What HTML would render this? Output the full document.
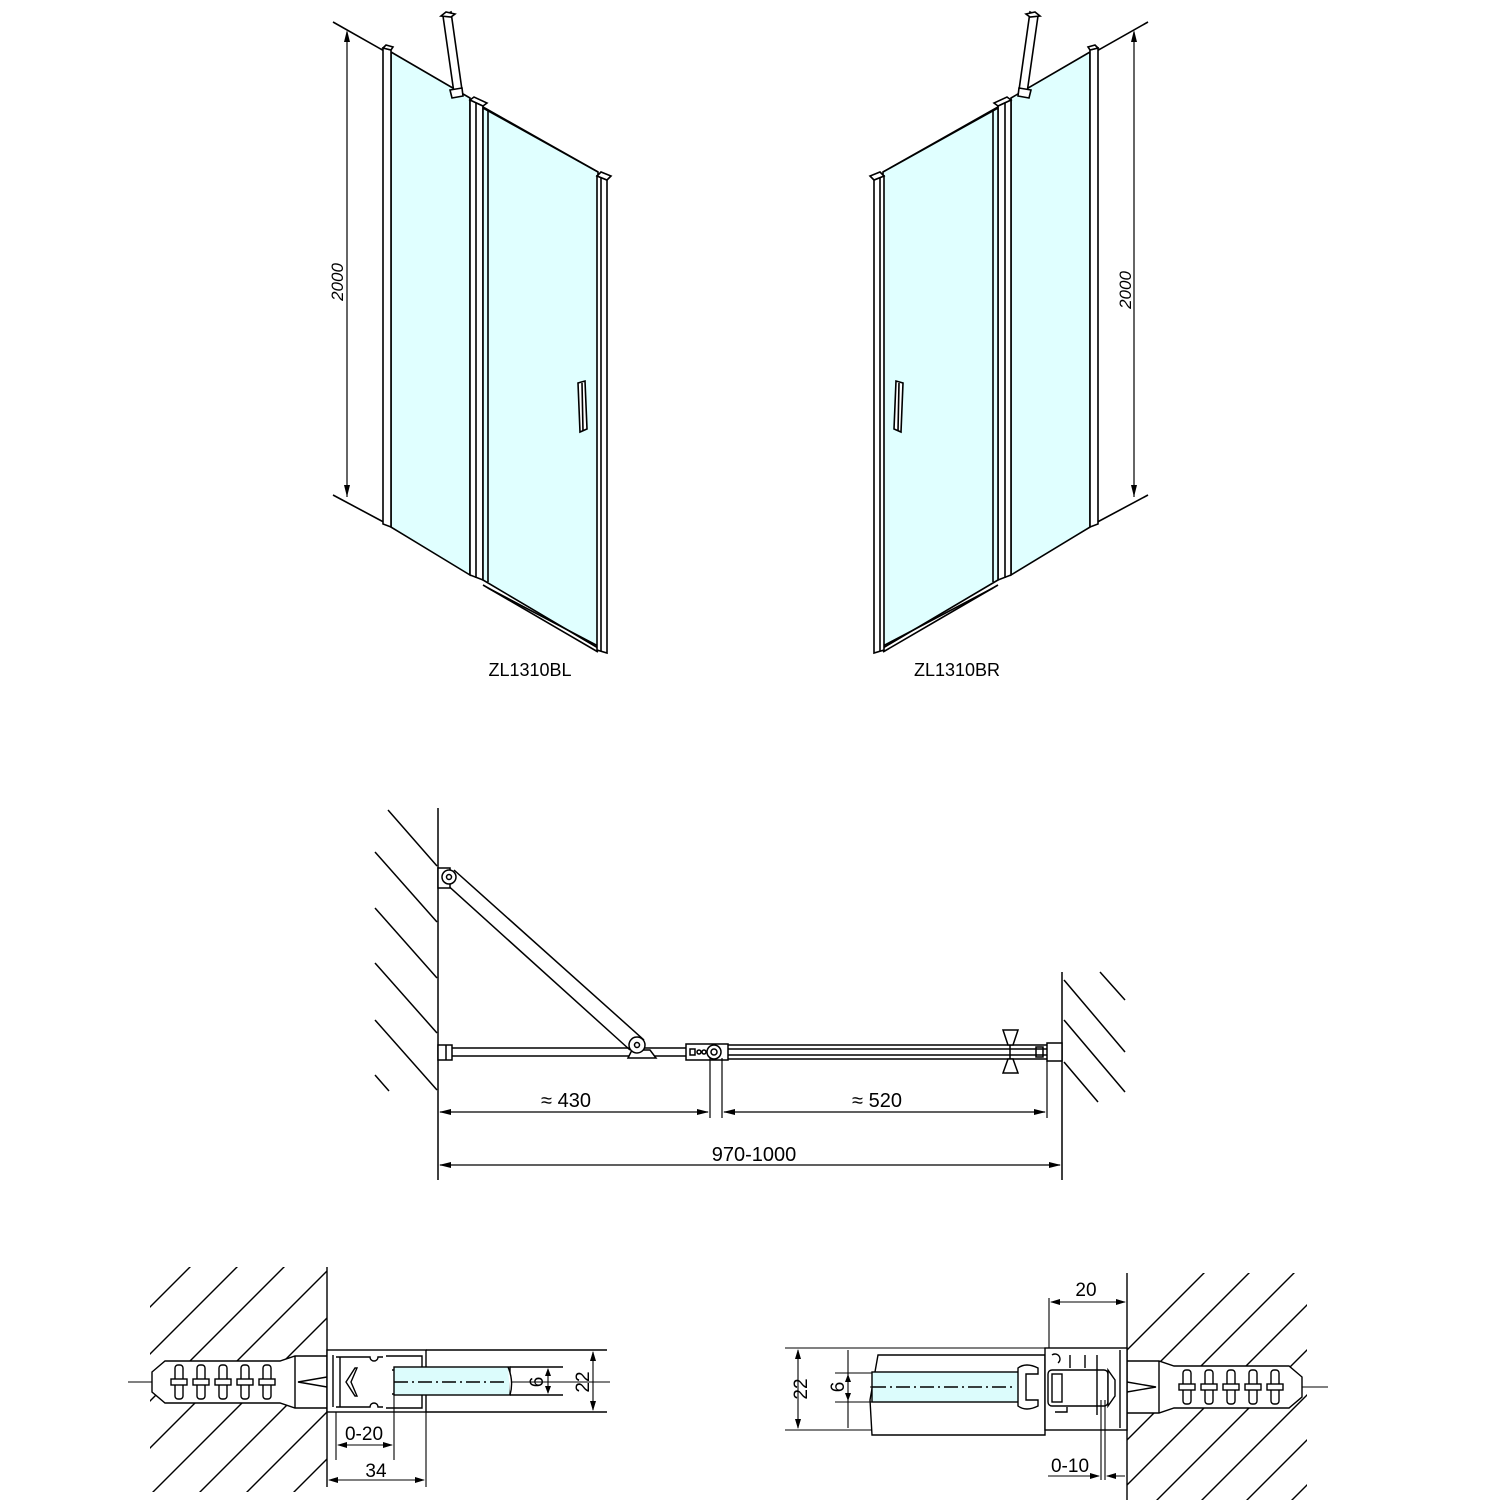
<!DOCTYPE html>
<html><head><meta charset="utf-8"><style>
html,body{margin:0;padding:0;background:#fff;width:1500px;height:1500px;overflow:hidden;}
svg{display:block;}
text{font-family:"Liberation Sans","DejaVu Sans",sans-serif;fill:#000;}
</style></head><body>
<svg width="1500" height="1500" viewBox="0 0 1500 1500" xmlns="http://www.w3.org/2000/svg">
<defs>
<g id="door" stroke="#000" stroke-width="1.6" fill="none">
  <line x1="333" y1="22" x2="598" y2="172"/>
  <line x1="333" y1="495" x2="391" y2="526"/>
  <line x1="391" y1="527" x2="470" y2="573"/>
  <line x1="347" y1="32" x2="347" y2="497" stroke-width="1.2"/>
  <path d="M347,30 l-3,12 h6z M347,497 l-3,-12 h6z" fill="#000" stroke="none"/>
  <polygon points="391,52 470,98 470,575 391,527" fill="#e0ffff"/>
  <polygon points="383,48 391,50 391,527 383,524" fill="#fff"/>
  <polygon points="383,48 386,45 393,47 391,50" fill="#fff"/>
  <polygon points="470,100 483,106 483,580 470,575" fill="#fff"/>
  <line x1="476" y1="103" x2="476" y2="578"/>
  <polygon points="470,100 474,97 487,103 483,106" fill="#fff"/>
  <polygon points="483,108 598,172 598,648 483,580" fill="#e0ffff"/>
  <line x1="488" y1="111" x2="488" y2="582"/>
  <line x1="483" y1="585" x2="598" y2="652"/>
  <line x1="488" y1="588" x2="598" y2="646"/>
  <polygon points="597,176 607,180 607,653 597,650" fill="#fff"/>
  <line x1="601" y1="178" x2="601" y2="651"/>
  <polygon points="597,176 601,172 611,176 607,180" fill="#fff"/>
  <polygon points="578,383 585,381 587,429 580,432" fill="#fff"/>
  <line x1="582" y1="383" x2="583" y2="431"/>
  <polygon points="443,16 451,12 462,90 454,93" fill="#fff"/>
  <polygon points="441,16 446,12 455,14 451,17" fill="#fff"/>
  <polygon points="450,90 462,88 463,96 452,98" fill="#fff"/>
</g>
<g id="anchor" stroke="#000" stroke-width="1.4" fill="#fff">
  <polygon points="152,1372 165,1361 280,1361 295,1356 327,1356 327,1408 295,1408 280,1403 165,1403 152,1392"/>
  <rect x="175" y="1365" width="8" height="34" rx="3"/>
  <rect x="197" y="1365" width="8" height="34" rx="3"/>
  <rect x="219" y="1365" width="8" height="34" rx="3"/>
  <rect x="241" y="1365" width="8" height="34" rx="3"/>
  <rect x="263" y="1365" width="8" height="34" rx="3"/>
  <rect x="171" y="1379" width="16" height="6"/>
  <rect x="193" y="1379" width="16" height="6"/>
  <rect x="215" y="1379" width="16" height="6"/>
  <rect x="237" y="1379" width="16" height="6"/>
  <rect x="259" y="1379" width="16" height="6"/>
  <line x1="295" y1="1356" x2="295" y2="1408"/>
  <polyline points="327,1377 298,1382 327,1387" fill="none"/>
</g>
<clipPath id="cl"><rect x="150" y="1267" width="177" height="225"/></clipPath>
<clipPath id="cr"><rect x="1127" y="1273" width="180" height="227"/></clipPath>
</defs>

<use href="#door"/>
<use href="#door" transform="translate(1481,0) scale(-1,1)"/>
<text x="0" y="0" font-size="17" font-style="italic" transform="translate(343,282) rotate(-90)" text-anchor="middle" font-family="Liberation Serif">2000</text>
<text x="0" y="0" font-size="17" font-style="italic" transform="translate(1131,290) rotate(-90)" text-anchor="middle" font-family="Liberation Serif">2000</text>
<text x="530" y="676" font-size="18" text-anchor="middle">ZL1310BL</text>
<text x="957" y="676" font-size="18" text-anchor="middle">ZL1310BR</text>

<g stroke="#000" stroke-width="1.5" fill="none">
  <line x1="438" y1="808" x2="438" y2="1180"/>
  <line x1="388" y1="810" x2="437" y2="866"/>
  <line x1="375" y1="852" x2="437" y2="922"/>
  <line x1="375" y1="908" x2="437" y2="978"/>
  <line x1="375" y1="963" x2="437" y2="1033"/>
  <line x1="375" y1="1020" x2="437" y2="1090"/>
  <line x1="375" y1="1075" x2="389" y2="1091"/>
  <line x1="1062" y1="972" x2="1062" y2="1180"/>
  <line x1="1064" y1="980" x2="1125" y2="1052"/>
  <line x1="1100" y1="972" x2="1125" y2="1000"/>
  <line x1="1064" y1="1020" x2="1125" y2="1092"/>
  <line x1="1064" y1="1062" x2="1098" y2="1102"/>
  <line x1="452" y1="1048" x2="686" y2="1048"/>
  <line x1="452" y1="1056" x2="686" y2="1056"/>
  <rect x="438" y="1045" width="14" height="15" fill="#fff"/>
  <line x1="446" y1="1045" x2="446" y2="1060"/>
  <line x1="444" y1="882" x2="630" y2="1050"/>
  <line x1="454" y1="870" x2="644" y2="1040"/>
  <rect x="438" y="868" width="12" height="20" fill="#fff"/>
  <circle cx="449" cy="877" r="7" fill="#fff"/>
  <circle cx="449" cy="877" r="2.5"/>
  <polygon points="632,1050 650,1050 656,1058 628,1058" fill="#fff"/>
  <circle cx="637" cy="1045" r="8" fill="#fff"/>
  <circle cx="637" cy="1045" r="2.5"/>
  <rect x="686" y="1044" width="42" height="16" fill="#fff"/>
  <circle cx="714" cy="1052" r="7"/>
  <circle cx="714" cy="1052" r="3"/>
  <rect x="690" y="1049" width="5" height="6"/>
  <circle cx="699" cy="1052" r="2"/>
  <circle cx="704" cy="1052" r="2"/>
  <line x1="728" y1="1045" x2="1047" y2="1045"/>
  <line x1="728" y1="1049" x2="1047" y2="1049"/>
  <line x1="728" y1="1055" x2="1047" y2="1055"/>
  <line x1="728" y1="1059" x2="1047" y2="1059"/>
  <polygon points="1003,1030 1018,1030 1013,1045 1008,1045" fill="#fff"/>
  <polygon points="1008,1059 1013,1059 1018,1073 1003,1073" fill="#fff"/>
  <line x1="1010" y1="1045" x2="1010" y2="1059"/>
  <rect x="1036" y="1047" width="7" height="10"/>
  <rect x="1047" y="1043" width="15" height="18" fill="#fff"/>
  <line x1="710" y1="1058" x2="710" y2="1118" stroke-width="1.2"/>
  <line x1="722" y1="1058" x2="722" y2="1118" stroke-width="1.2"/>
  <line x1="1047" y1="1061" x2="1047" y2="1118" stroke-width="1.2"/>
  <line x1="440" y1="1112" x2="708" y2="1112" stroke-width="1.2"/>
  <line x1="724" y1="1112" x2="1045" y2="1112" stroke-width="1.2"/>
  <line x1="440" y1="1165" x2="1060" y2="1165" stroke-width="1.2"/>
</g>
<g fill="#000">
  <path d="M439,1112 l12,-3 v6z M709,1112 l-12,-3 v6z M723,1112 l12,-3 v6z M1046,1112 l-12,-3 v6z M439,1165 l12,-3 v6z M1061,1165 l-12,-3 v6z"/>
</g>
<text x="566" y="1107" font-size="20" text-anchor="middle">≈ 430</text>
<text x="877" y="1107" font-size="20" text-anchor="middle">≈ 520</text>
<text x="754" y="1161" font-size="20" text-anchor="middle">970-1000</text>

<g stroke="#000" stroke-width="1.4" fill="none">
  <g clip-path="url(#cl)">
    <line x1="0" y1="1457" x2="400" y2="1057"/>
    <line x1="0" y1="1504" x2="400" y2="1104"/>
    <line x1="0" y1="1551" x2="400" y2="1151"/>
    <line x1="0" y1="1598" x2="400" y2="1198"/>
    <line x1="0" y1="1645" x2="400" y2="1245"/>
    <line x1="0" y1="1692" x2="400" y2="1292"/>
    <line x1="0" y1="1739" x2="400" y2="1339"/>
    <line x1="0" y1="1786" x2="400" y2="1386"/>
  </g>
  <line x1="327" y1="1267" x2="327" y2="1487"/>
  <line x1="128" y1="1382" x2="610" y2="1382" stroke-width="1"/>
  <use href="#anchor"/>
  <rect x="327" y="1350" width="99" height="62" fill="#fff"/>
  <line x1="426" y1="1350" x2="607" y2="1350"/>
  <line x1="426" y1="1412" x2="607" y2="1412"/>
  <line x1="333" y1="1355" x2="333" y2="1407"/>
  <path d="M336,1357 h34 a4,4 0 0 0 8,0 h5 M340,1357 v50 M336,1407 h34 a4,4 0 0 1 8,0 h5"/>
  <path d="M386,1356 h36 v14 h-30 M386,1408 h36 v-14 h-30"/>
  <polygon points="346,1382 355,1368 357,1368 351,1382 357,1396 355,1396" fill="#fff"/>
  <rect x="394" y="1367" width="116" height="28" fill="#dcfcfc"/>
  <line x1="510" y1="1367" x2="563" y2="1367"/>
  <line x1="510" y1="1395" x2="563" y2="1395"/>
  <path d="M508,1367 q6,14 2,28" fill="#fff"/>
  <line x1="394" y1="1382" x2="505" y2="1382" stroke-dasharray="14,4,2,4"/>
  <line x1="336" y1="1412" x2="336" y2="1460" stroke-width="1.1"/>
  <line x1="394" y1="1395" x2="394" y2="1460" stroke-width="1.1"/>
  <line x1="426" y1="1412" x2="426" y2="1487" stroke-width="1.1"/>
  <line x1="338" y1="1445" x2="392" y2="1445" stroke-width="1.1"/>
  <line x1="329" y1="1480" x2="424" y2="1480" stroke-width="1.1"/>
  <line x1="548" y1="1369" x2="548" y2="1393" stroke-width="1.1"/>
  <line x1="593" y1="1352" x2="593" y2="1410" stroke-width="1.1"/>
</g>
<g fill="#000">
  <path d="M337,1445 l10,-3 v6z M393,1445 l-10,-3 v6z M328,1480 l10,-3 v6z M425,1480 l-10,-3 v6z M548,1368 l-3,8 h6z M548,1394 l-3,-8 h6z M593,1351 l-3,10 h6z M593,1411 l-3,-10 h6z"/>
</g>
<text x="364" y="1440" font-size="19" text-anchor="middle">0-20</text>
<text x="376" y="1477" font-size="19" text-anchor="middle">34</text>
<text transform="translate(543,1382) rotate(-90)" font-size="19" text-anchor="middle">6</text>
<text transform="translate(589,1382) rotate(-90)" font-size="19" text-anchor="middle">22</text>

<g stroke="#000" stroke-width="1.4" fill="none">
  <g clip-path="url(#cr)">
    <line x1="1100" y1="1377" x2="1400" y2="1077"/>
    <line x1="1100" y1="1422" x2="1400" y2="1122"/>
    <line x1="1100" y1="1467" x2="1400" y2="1167"/>
    <line x1="1100" y1="1512" x2="1400" y2="1212"/>
    <line x1="1100" y1="1557" x2="1400" y2="1257"/>
    <line x1="1100" y1="1602" x2="1400" y2="1302"/>
    <line x1="1100" y1="1647" x2="1400" y2="1347"/>
    <line x1="1100" y1="1692" x2="1400" y2="1392"/>
  </g>
  <line x1="1127" y1="1273" x2="1127" y2="1500"/>
  <line x1="870" y1="1387" x2="1328" y2="1387" stroke-width="1"/>
  <use href="#anchor" transform="translate(1454,5) scale(-1,1)"/>
  <polygon points="878,1355 1045,1355 1045,1435 872,1435 870,1400" fill="#fff"/>
  <rect x="872" y="1372" width="148" height="30" fill="#dcfcfc"/>
  <line x1="872" y1="1387" x2="1015" y2="1387" stroke-dasharray="14,4,2,4"/>
  <path d="M1018,1368 q8,-6 20,0 v6 h-12 v26 h12 v6 q-12,6 -20,0z" fill="#fff"/>
  <rect x="1045" y="1348" width="82" height="82" fill="#fff"/>
  <line x1="1120" y1="1350" x2="1120" y2="1428"/>
  <rect x="1048" y="1370" width="60" height="36" rx="4"/>
  <rect x="1052" y="1374" width="10" height="28"/>
  <path d="M1052,1355 a5,5 0 1 1 6,8 M1055,1412 h12 v-5 M1070,1355 v13 M1085,1355 v13 M1097,1355 v60"/>
  <polygon points="1108,1370 1115,1380 1115,1396 1108,1406" fill="#fff"/>
  <line x1="785" y1="1348" x2="1045" y2="1348" stroke-width="1.1"/>
  <line x1="785" y1="1430" x2="872" y2="1430" stroke-width="1.1"/>
  <line x1="835" y1="1373" x2="872" y2="1373" stroke-width="1.1"/>
  <line x1="835" y1="1402" x2="872" y2="1402" stroke-width="1.1"/>
  <line x1="798" y1="1350" x2="798" y2="1428" stroke-width="1.1"/>
  <line x1="848" y1="1350" x2="848" y2="1428" stroke-width="1.1"/>
  <line x1="1049" y1="1298" x2="1049" y2="1348" stroke-width="1.1"/>
  <line x1="1051" y1="1302" x2="1125" y2="1302" stroke-width="1.1"/>
  <line x1="1101" y1="1400" x2="1101" y2="1480" stroke-width="1.1"/>
  <line x1="1105" y1="1400" x2="1105" y2="1480" stroke-width="1.1"/>
  <line x1="1048" y1="1476" x2="1099" y2="1476" stroke-width="1.1"/>
  <line x1="1107" y1="1476" x2="1125" y2="1476" stroke-width="1.1"/>
</g>
<g fill="#000">
  <path d="M798,1349 l-3,10 h6z M798,1429 l-3,-10 h6z M848,1374 l-3,8 h6z M848,1401 l-3,-8 h6z M1050,1302 l10,-3 v6z M1126,1302 l-10,-3 v6z M1100,1476 l-10,-3 v6z M1106,1476 l10,-3 v6z"/>
</g>
<text x="1086" y="1296" font-size="19" text-anchor="middle">20</text>
<text x="1070" y="1472" font-size="19" text-anchor="middle">0-10</text>
<text transform="translate(807,1389) rotate(-90)" font-size="19" text-anchor="middle">22</text>
<text transform="translate(844,1387) rotate(-90)" font-size="19" text-anchor="middle">6</text>
</svg>
</body></html>
